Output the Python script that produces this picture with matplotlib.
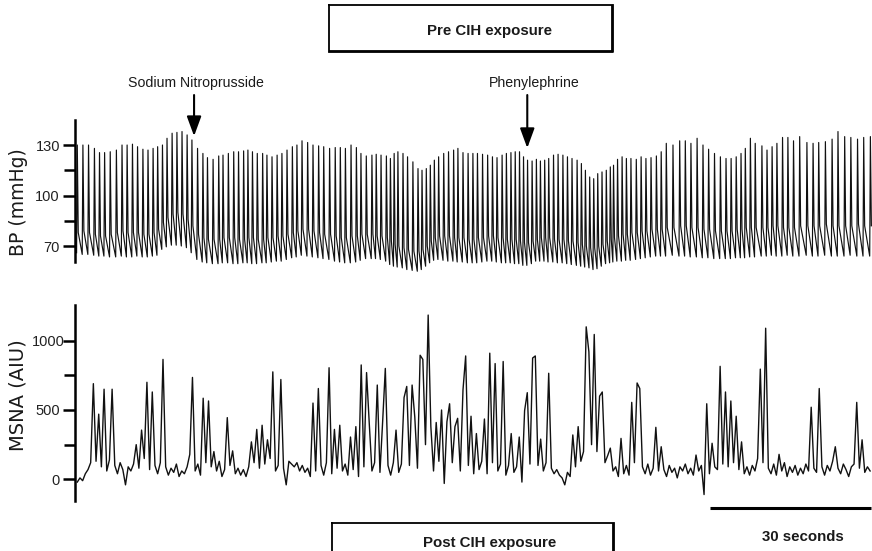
import numpy as np
import matplotlib.pyplot as plt
from matplotlib.lines import Line2D
from matplotlib.transforms import ScaledTranslation

plt.rcParams['font.family'] = ['Liberation Sans', 'DejaVu Sans']

# =========================
# Data
# =========================
# time of each systolic peak (s) and per-beat pressures (mmHg)
beat_t = np.array([
    0.0, 1.05, 2.1, 3.2, 4.15, 5.1, 6.15, 7.3, 8.35, 9.3, 10.3, 11.25, 12.25, 13.2, 14.15,
    15.0, 15.9, 16.75, 17.7, 18.6, 19.55, 20.5, 21.4, 22.45, 23.45, 24.3, 25.35, 26.4, 27.2,
    28.2, 29.2, 30.1, 31.05, 31.85, 32.7, 33.6, 34.6, 35.4, 36.35, 37.3, 38.2, 39.15, 40.15, 41.0,
    41.95, 43.0, 44.0, 45.05, 46.0, 47.1, 48.15, 49.1, 50.05, 51.1, 52.1, 52.95, 53.95, 55.0,
    55.8, 56.7, 57.7, 58.45, 59.15, 59.85, 60.8, 61.65, 62.65, 63.6, 64.35, 65.15, 65.9, 66.65,
    67.45, 68.4, 69.3, 70.25, 71.05, 72.0, 72.95, 73.85, 74.7, 75.65, 76.6, 77.5, 78.35, 79.3,
    80.1, 80.95, 81.75, 82.55, 83.3, 84.05, 84.9, 85.7, 86.45, 87.25, 88.0, 88.9, 89.75, 90.65,
    91.5, 92.35, 93.3, 94.1, 94.85, 95.65,
    96.4, 97.15, 97.95, 98.75, 99.5, 100.1, 100.85, 101.7, 102.5, 103.35, 104.35, 105.25, 106.15,
    107.1, 108.1, 109.0, 109.95, 111.2, 112.45, 113.5, 114.55, 115.7, 116.8, 117.85, 118.95,
    120.05, 121.1, 122.05, 123.0, 123.9, 124.7, 125.65, 126.55, 127.8, 128.75, 129.7, 130.6,
    131.65, 132.65, 133.7, 134.85, 136.2, 137.35, 138.4, 139.65, 140.9, 142.0, 143.25, 144.4,
    145.65, 146.8, 148.05,
])
bp_sys = np.array([
    130, 130, 130, 128, 125.5, 125.5, 126, 127, 130, 130, 130.5, 129, 127.5, 127, 128, 129, 130,
    134, 137, 137.5, 138, 136, 133, 128, 125, 122.5, 121.5, 123.5, 124, 125, 126, 126, 126.5, 127,
    126, 125, 125, 124, 123, 124, 125, 127, 129, 130,
    132.5, 131.5, 130, 129.5, 129, 128, 128.5, 128.5, 128, 130, 128.5, 125, 123.5, 124, 124.5,
    124, 123.5, 122, 125, 126, 125, 123, 120, 116, 115, 116, 118, 121, 123, 125, 126, 127, 128,
    125.5, 125, 125, 125, 124.5, 124, 123, 122.5, 124, 125, 125.5, 126, 126, 123, 121, 120.5,
    121.5, 120.5, 121, 122, 124, 124.5, 124, 123, 122, 121, 119, 115, 111,
    110, 113, 114, 115, 117, 118, 121.5, 123, 122, 122, 121.5, 123, 122, 122.5, 123.5, 126, 131,
    130, 132.5, 132.5, 131, 134, 130, 127.5, 125, 123, 122, 122, 123, 125, 128, 134, 131, 129.5,
    127, 129, 131, 134.5, 134.5, 132.5, 135, 131.5, 131, 131.5, 132, 133.5, 138, 135, 134.5,
    133.5, 134.5, 135,
])
bp_notch = np.array([
    78, 79, 78, 77, 76, 76, 77, 78, 79, 78, 78, 78, 77, 77, 78, 80,
    84, 87, 89, 90, 89, 86, 82,
    77, 75, 74, 74, 74, 75, 75, 75, 74, 74, 75, 75, 74, 74, 75, 75, 76, 76, 77, 78, 79,
    80, 80, 79, 78, 77, 77, 76, 75, 75, 76, 76, 77, 77, 77, 76, 76, 75,
    73, 71, 70, 69, 68, 67, 67, 68, 70, 73, 75, 76,
    76, 76, 75, 75, 75, 74, 74, 75, 75, 76, 76, 75, 75, 74, 74, 74, 73,
    72, 72, 73, 74, 75, 75, 75, 74, 74, 74, 73, 73, 72, 71, 70, 69,
    69, 70, 71, 73, 74, 75, 76, 77, 77, 78, 78, 79,
    79, 80, 80, 80, 81, 81, 82, 82, 81, 81, 80, 80, 79, 79, 79, 79, 80, 80, 81, 81,
    81, 81, 81, 82, 82, 81, 81, 81, 82, 82, 82, 82, 83, 82, 82, 82, 82, 83, 82, 82,
])
bp_dia = np.array([
    66, 65, 65, 64.5, 64,
    64, 63.5, 63.5, 64, 63.5, 63.5, 64, 63.5, 63.5, 64, 64.5,
    68, 69.5, 70.5, 70.5, 70, 69,
    66,
    62, 60.5, 60, 59.5, 59.5, 60, 60, 59.5, 59.5, 60, 60, 59.5, 59.5, 60, 60, 60.5, 61, 61, 62, 63,
    63.5,
    64.5, 64, 63.5, 63, 62.5, 62,
    61, 60.5, 60, 60, 60.5,
    61.5, 62.5, 62.5, 62.5, 62, 61,
    59, 58, 57.5, 57, 56, 55.5, 55, 56,
    58, 60, 61.5, 62,
    61.5, 61, 61, 60.5, 60.5, 60, 60, 60, 60.5, 61, 61, 60.5, 60, 60, 60, 59.5, 59.5,
    58.5, 58.5, 59.5,
    61, 61, 61, 60.5, 60.5, 60, 60, 59.5,
    59, 58.5, 58, 57.5, 57,
    56, 56.5, 58,
    59.5, 60, 60.5, 61, 61, 61.5, 61.5, 62, 62.5,
    63, 63.5, 64, 64, 64, 64.5, 64, 64, 63.5, 63.5,
    63, 63, 62.5, 62.5, 62.5, 62.5, 63, 63, 63, 63.5, 63.5,
    64, 64, 64.5, 64, 64, 64.5, 64, 64, 64.5, 64, 64, 64.5, 64, 64, 64, 64.5, 64, 64, 64,
])

# MSNA, one reading every 0.5 s (AIU)
msna_dt = 0.5
msna = np.array([
    -20, 10, -10, 40, 70, 120, 690, 130, 470, 90,
    650, 60, 140, 650, 100, 40, 120, 70, -40, 90,
    60, 110, 250, 80, 355, 150, 700, 70, 630, 100,
    40, 120, 865, 90, 30, 80, 50, 110, 20, 60,
    40, 90, 180, 735, 60, 110, 30, 585, 120, 565,
    90, 200, 60, 130, 20, 70, 445, 100, 205, 40,
    80, 30, 70, 20, 90, 270, 120, 360, 80, 390,
    110, 285, 150, 775, 60, 100, 720, 80, -40, 130,
    110, 90, 120, 60, 100, 50, 80, 20, 550, 60,
    655, 100, 30, 120, 805, 40, 360, 80, 390, 60,
    110, 30, 305, 70, 380, 20, 825, 90, 770, 405,
    60, 120, 680, 50, 415, 800, 100, 30, 120, 355,
    50, 110, 590, 670, 100, 680, 450, 80, 895, 865,
    250, 1185, 380, 60, 410, 130, 500, -30, 415, 545,
    120, 380, 440, 60, 645, 890, 100, 455, 40, 330,
    70, 130, 435, 40, 910, 120, 835, 60, 110, 850,
    30, 100, 330, 50, 90, 305, -20, 495, 625, 110,
    875, 890, 100, 290, 60, 120, 765, 80, 40, 70,
    30, 10, -40, 50, 20, 320, 90, 380, 130, 200,
    1100, 920, 250, 1045, 200, 600, 630, 120, 170, 225,
    60, 90, 20, 295, 40, 100, 30, 555, 120, 695,
    655, 90, 40, 110, 30, 80, 375, 60, 235, 70,
    20, 100, 50, 80, 10, 90, 60, 110, 40, 80,
    30, 175, 60, 100, -110, 545, 40, 260, 90, 70,
    815, 110, 630, 90, 565, 120, 455, 70, 270, 40,
    90, 30, 100, 60, 150, 795, 120, 1090, 80, 40,
    110, 30, 180, 60, 120, 20, 90, 50, 100, 30,
    80, 40, 110, 60, 520, 80, 50, 655, 90, 30,
    100, 60, 130, 235, 80, 40, 110, 70, 20, 90,
    110, 555, 80, 285, 50, 90, 60,
])

snp_time = 21.8      # sodium nitroprusside arrow (s)
pe_time = 84.0       # phenylephrine arrow (s)
bar_start = 118.2    # 30 s scale bar
bar_len = 30

# =========================
# Figure / layout helpers
# =========================
W, H = 872, 551
fig = plt.figure(figsize=(W / 100, H / 100), dpi=100)


def fbox(left, top, right, bottom):
    return [left / W, 1 - bottom / H, (right - left) / W, (bottom - top) / H]


def fx(px):
    return px / W


def fy(py):
    return 1 - py / H


xlim = (-0.52, 148.35)
ink = '#1a1a1a'


def style_axis(ax):
    for s in ['top', 'right', 'bottom']:
        ax.spines[s].set_visible(False)
    ax.spines['left'].set_linewidth(1.8)
    ax.set_xticks([])
    ax.set_xlim(*xlim)
    ax.tick_params(axis='y', which='major', length=9, width=1.8, pad=1.5,
                   labelsize=10.5, labelcolor='#222222')
    ax.tick_params(axis='y', which='minor', length=8, width=1.8)
    ax.patch.set_alpha(0)


# =========================
# BP trace
# =========================
ax_bp = fig.add_axes(fbox(74.5, 110, W, 280))
bp_x = np.column_stack([beat_t - 0.13, beat_t, beat_t + 0.18]).ravel()
bp_y = np.column_stack([bp_dia, bp_sys, bp_notch]).ravel()
ax_bp.plot(bp_x, bp_y, color='#111111', lw=0.85)
style_axis(ax_bp)
ax_bp.set_ylim(49.8, 150.8)
ax_bp.spines['left'].set_bounds(60.5, 144.9)
ax_bp.set_yticks([70, 100, 130])
ax_bp.set_yticks([85, 115], minor=True)

for t, tip in [(snp_time, 135.3), (pe_time, 128.2)]:
    ax_bp.annotate('', xy=(t, tip), xytext=(t, 159.7), annotation_clip=False,
                   arrowprops=dict(arrowstyle='-|>,head_length=0.6,head_width=0.22',
                                   mutation_scale=20, lw=1.5, color='black',
                                   shrinkA=0, shrinkB=0))
fig.text(fx(196), fy(87), 'Sodium Nitroprusside', ha='center', va='baseline',
         fontsize=10.2, color=ink)
fig.text(fx(534), fy(87), 'Phenylephrine', ha='center', va='baseline',
         fontsize=10.2, color=ink)
fig.text(fx(19), fy(202), 'BP (mmHg)', rotation=90, ha='center', va='center',
         fontsize=13.5, family='DejaVu Sans', color=ink)

# =========================
# MSNA trace
# =========================
ax_ms = fig.add_axes(fbox(74.5, 290, W, 520))
msna_t = np.arange(len(msna)) * msna_dt
ax_ms.plot(msna_t, msna, color='#111111', lw=1.0)
style_axis(ax_ms)
ax_ms.set_ylim(-293.7, 1365.8)
ax_ms.spines['left'].set_bounds(-154, 1258)
ax_ms.set_yticks([0, 500, 1000])
ax_ms.set_yticks([250, 750], minor=True)
# the "1000" label sits a little to the right in the original
lab_1000 = ax_ms.get_yticklabels()[2]
lab_1000.set_transform(lab_1000.get_transform() + ScaledTranslation(5 / 100, 0, fig.dpi_scale_trans))
fig.text(fx(18), fy(395), 'MSNA (AIU)', rotation=90, ha='center', va='center',
         fontsize=14, family='DejaVu Sans', color=ink)

# scale bar
ax_ms.plot([bar_start, bar_start + bar_len], [-207, -207], color='black', lw=2.2,
           solid_capstyle='butt', clip_on=False)
fig.text(fx(803), fy(541), f'{bar_len} seconds', ha='center', va='baseline',
         fontsize=10.8, fontweight='bold', color=ink)


# =========================
# Condition boxes
# =========================
def draw_box(left, top, right, bottom):
    xs = [fx(left), fx(right), fx(right), fx(left), fx(left)]
    ys = [fy(top), fy(top), fy(bottom), fy(bottom), fy(top)]
    fig.add_artist(Line2D(xs, ys, color='black', lw=1.3))
    # heavier bottom / right edge
    fig.add_artist(Line2D([fx(left), fx(right + 1), fx(right + 1)],
                          [fy(bottom + 1), fy(bottom + 1), fy(top)], color='black', lw=1.3))


draw_box(329, 5, 612, 51)
fig.text(fx(489), fy(35), 'Pre CIH exposure', ha='center', va='baseline',
         fontsize=10.8, fontweight='bold', color=ink)
draw_box(331.5, 523.3, 613, 570)
fig.text(fx(490), fy(546.5), 'Post CIH exposure', ha='center', va='baseline',
         fontsize=10.8, fontweight='bold', color=ink)

fig.savefig('out.png', dpi=100)
